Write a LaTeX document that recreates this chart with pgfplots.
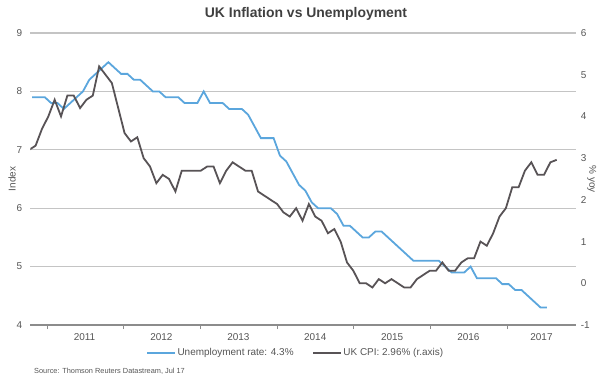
\documentclass[border=0pt]{standalone}
\usepackage{fontspec}
\setmainfont{Liberation Sans}
\usepackage{pgfplots}
\usepackage{pgfplotstable}
\pgfplotsset{compat=1.18}
\definecolor{ublue}{RGB}{91,166,221}
\definecolor{cpigray}{RGB}{88,83,86}
\definecolor{gridgray}{RGB}{196,196,196}
\definecolor{axisgray}{RGB}{140,140,140}
\definecolor{txtgray}{RGB}{85,85,85}
\definecolor{titlegray}{RGB}{64,64,64}

\pgfplotstableread{
m u
-3 7.9
-2 7.9
-1 7.9
0 7.8
1 7.8
2 7.7
3 7.8
4 7.9
5 8.0
6 8.2
7 8.3
8 8.4
9 8.5
10 8.4
11 8.3
12 8.3
13 8.2
14 8.2
15 8.1
16 8.0
17 8.0
18 7.9
19 7.9
20 7.9
21 7.8
22 7.8
23 7.8
24 8.0
25 7.8
26 7.8
27 7.8
28 7.7
29 7.7
30 7.7
31 7.6
32 7.4
33 7.2
34 7.2
35 7.2
36 6.9
37 6.8
38 6.6
39 6.4
40 6.3
41 6.1
42 6.0
43 6.0
44 6.0
45 5.9
46 5.7
47 5.7
48 5.6
49 5.5
50 5.5
51 5.6
52 5.6
53 5.5
54 5.4
55 5.3
56 5.2
57 5.1
58 5.1
59 5.1
60 5.1
61 5.1
62 5.0
63 4.9
64 4.9
65 4.9
66 5.0
67 4.8
68 4.8
69 4.8
70 4.8
71 4.7
72 4.7
73 4.6
74 4.6
75 4.5
76 4.4
77 4.3
78 4.3
}\unemp

\pgfplotstableread{
m c
-3 3.2
-2 3.3
-1 3.7
0 4.0
1 4.4
2 4.0
3 4.5
4 4.5
5 4.2
6 4.4
7 4.5
8 5.2
9 5.0
10 4.8
11 4.2
12 3.6
13 3.4
14 3.5
15 3.0
16 2.8
17 2.4
18 2.6
19 2.5
20 2.2
21 2.7
22 2.7
23 2.7
24 2.7
25 2.8
26 2.8
27 2.4
28 2.7
29 2.9
30 2.8
31 2.7
32 2.7
33 2.2
34 2.1
35 2.0
36 1.9
37 1.7
38 1.6
39 1.8
40 1.5
41 1.9
42 1.6
43 1.5
44 1.2
45 1.3
46 1.0
47 0.5
48 0.3
49 0.0
50 0.0
51 -0.1
52 0.1
53 0.0
54 0.1
55 0.0
56 -0.1
57 -0.1
58 0.1
59 0.2
60 0.3
61 0.3
62 0.5
63 0.3
64 0.3
65 0.5
66 0.6
67 0.6
68 1.0
69 0.9
70 1.2
71 1.6
72 1.8
73 2.3
74 2.3
75 2.7
76 2.9
77 2.6
78 2.6
79 2.9
80 2.96
}\cpi

\begin{document}
\begin{tikzpicture}[x=1bp,y=1bp]
\useasboundingbox (0,0) rectangle (605,378);
\node[font=\bfseries\fontsize{14}{16}\selectfont, text=titlegray] at (306,364) {UK Inflation vs Unemployment};
\node[font=\fontsize{7.4}{9}\selectfont, text=txtgray, anchor=west, inner sep=0pt] at (34,7) {Source: Thomson Reuters Datastream, Jul 17};
\begin{axis}[
  at={(30.4bp,53bp)}, anchor=south west, scale only axis,
  width=545.3bp, height=292bp,
  xmin=-2.82, xmax=82.99, ymin=4, ymax=9,
  axis x line*=bottom, axis y line*=left,
  y axis line style={draw=none},
  x axis line style={draw=axisgray, line width=1.6bp},
  ytick={4,5,6,7,8,9},
  ymajorgrids, grid style={draw=gridgray, line width=1.2bp},
  ytick style={draw=none},
  xtick={-0.2,11.9,23.9,36.0,48.1,60.2,72.3},
  xticklabels={},
  xtick style={draw=axisgray, line width=1bp},
  tick align=outside, major tick length=4bp,
  extra x ticks={5.7,17.8,29.9,42,54.1,66.1,77.6},
  extra x tick labels={2011,2012,2013,2014,2015,2016,2017},
  extra x tick style={major tick length=0pt, xtick style={draw=none}, xmajorgrids=false},
  xticklabel style={anchor=north, inner sep=0pt, yshift=-8bp},
  yticklabel style={anchor=east, inner sep=0pt, xshift=-4bp},
  tick label style={font=\fontsize{10}{12}\selectfont, text=txtgray},
  /pgf/number format/assume math mode=true,
  ylabel={Index},
  every axis y label/.style={at={(axis description cs:0,0.5)}, xshift=-18.4bp, rotate=90, anchor=center, font=\fontsize{10}{12}\selectfont, text=txtgray},
]
\addplot[ublue, line width=1.8bp] table[x expr=\thisrow{m}+0.45, y=u] {\unemp};
\end{axis}
\begin{axis}[
  at={(30.4bp,53bp)}, anchor=south west, scale only axis,
  width=545.3bp, height=292bp,
  xmin=-2.82, xmax=82.99, ymin=-1, ymax=6,
  axis x line=none, axis y line*=right,
  y axis line style={draw=none},
  ytick={-1,0,1,2,3,4,5,6}, ytick style={draw=none},
  yticklabel style={anchor=west, inner sep=0pt, xshift=5bp},
  tick label style={font=\fontsize{10}{12}\selectfont, text=txtgray},
  /pgf/number format/assume math mode=true,
  ylabel={\% yoy},
  every axis y label/.style={at={(axis description cs:1,0.5)}, xshift=16bp, rotate=-90, anchor=center, font=\fontsize{10}{12}\selectfont, text=txtgray},
  legend columns=2,
  legend style={at={(axis description cs:0.486,-0.096)}, anchor=center, draw=none, fill=none,
    font=\fontsize{10}{12}\selectfont, text=txtgray, inner sep=0pt,
    nodes={inner xsep=1.5bp, inner ysep=1bp},
    /tikz/every even column/.append style={column sep=17bp}},
  legend image code/.code={\draw[#1] (0bp,0bp) -- (28bp,0bp);},
]
\addlegendimage{ublue, line width=1.8bp}
\addlegendentry{Unemployment rate: 4.3\%}
\addplot[cpigray, line width=1.8bp] table[x=m, y=c] {\cpi};
\addlegendentry{UK CPI: 2.96\% (r.axis)}
\end{axis}
\end{tikzpicture}
\end{document}
